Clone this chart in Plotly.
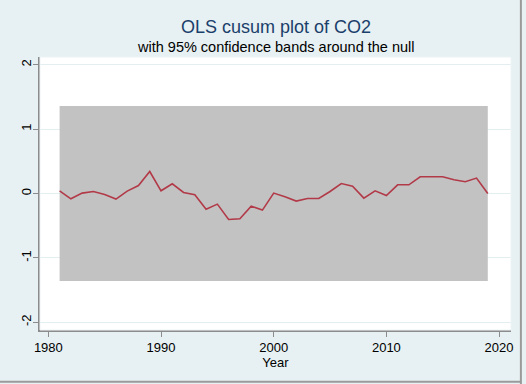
import plotly.graph_objects as go

years = list(range(1981, 2020))
cusum = [0.042, -0.082, 0.006, 0.031, -0.015, -0.087, 0.037, 0.124, 0.342, 0.042,
         0.151, 0.016, -0.020, -0.243, -0.165, -0.403, -0.393, -0.196, -0.258, 0.006,
         -0.051, -0.118, -0.077, -0.077, 0.031, 0.155, 0.114, -0.072, 0.042, -0.031,
         0.135, 0.135, 0.259, 0.259, 0.259, 0.213, 0.182, 0.239, 0.0]
band_years = [1981, 2019]
crit = 1.358
x_ticks = [1980, 1990, 2000, 2010, 2020]
y_ticks = [-2, -1, 0, 1, 2]

title_text = "OLS cusum plot of CO2"
subtitle_text = "with 95% confidence bands around the null"

fig = go.Figure()
fig.add_trace(go.Scatter(
    x=[band_years[0], band_years[1], band_years[1], band_years[0]],
    y=[-crit, -crit, crit, crit],
    fill="toself", fillcolor="#C2C2C2", line=dict(width=0),
    mode="lines", hoverinfo="skip", showlegend=False))
fig.add_trace(go.Scatter(
    x=years, y=cusum, mode="lines",
    line=dict(color="#B23A48", width=1.6), showlegend=False))

axis_col = "#8C8C8C"
fig.update_layout(
    width=526, height=384,
    margin=dict(l=40, r=15, t=57, b=54),
    paper_bgcolor="#E7F0F2", plot_bgcolor="white",
    font=dict(family="Liberation Sans, Arial, sans-serif", color="black", size=13),
    showlegend=False,
    xaxis=dict(range=[1979.26, 2021.06], tickvals=x_ticks, ticks="outside", ticklen=5,
               tickcolor=axis_col, showline=True, linecolor=axis_col, linewidth=1.5,
               showgrid=False, zeroline=False,
               title=dict(text="Year", standoff=0, font=dict(size=13))),
    yaxis=dict(range=[-2.12, 2.12], tickvals=y_ticks, ticktext=[str(v) for v in y_ticks],
               ticks="outside", ticklen=5, tickcolor=axis_col, tickangle=-90,
               ticklabelstandoff=-3,
               showline=True, linecolor=axis_col, linewidth=1.5,
               showgrid=True, gridcolor="#E3EEF0", gridwidth=1, zeroline=False),
    annotations=[
        dict(text=title_text, xref="paper", yref="paper", x=0.5, y=1.11,
             xanchor="center", yanchor="middle", showarrow=False,
             font=dict(size=18, color="#1A3F6B")),
        dict(text=subtitle_text, xref="paper", yref="paper", x=0.5, y=1.037,
             xanchor="center", yanchor="middle", showarrow=False,
             font=dict(size=14.5, color="black")),
    ],
    shapes=[
        dict(type="rect", xref="paper", yref="paper", x0=0, x1=1, y0=0, y1=1,
             line=dict(color="#EEF4F5", width=1), layer="above"),
        dict(type="line", xref="paper", yref="paper", x0=1.021, x1=1.021, y0=-0.2, y1=1.21,
             line=dict(color="#9A9A9A", width=2)),
        dict(type="line", xref="paper", yref="paper", x0=-0.09, x1=1.022, y0=-0.19, y1=-0.19,
             line=dict(color="#9A9A9A", width=2)),
    ],
)

fig.write_html("out.html", config={"displayModeBar": False},
               post_script="document.body.style.margin='0';")
